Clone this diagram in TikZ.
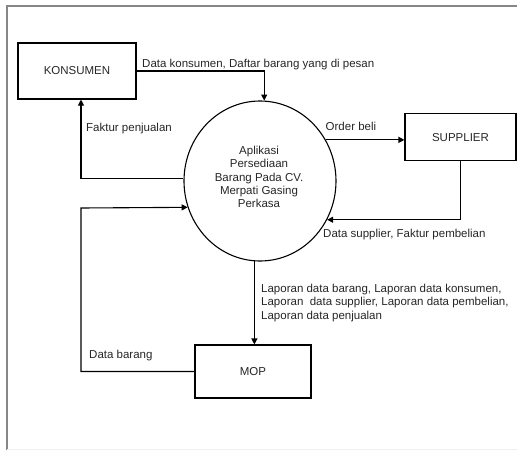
\documentclass[tikz,border=0pt]{standalone}
\usepackage{fontspec}
\setmainfont{Liberation Sans}
\usetikzlibrary{shapes.geometric,arrows.meta}
\begin{document}
\begin{tikzpicture}[x=1pt,y=-1pt,
  every node/.style={font=\fontsize{11.5}{13.4}\selectfont, text=black!85},
  entity/.style={draw, line width=1.1pt, rectangle, inner sep=0pt},
  process/.style={draw, line width=1.1pt, ellipse, inner sep=0pt, minimum width=152pt, minimum height=160pt},
  flow/.style={line width=1.1pt, -{Triangle[length=6pt,width=6pt]}},
  lbl/.style={inner sep=0pt},
  frame/.style={draw=black!47, line width=2pt}]
\useasboundingbox (0,0) rectangle (517,450);
% frame
\draw[frame] (517,5.7) -- (7,5.7) -- (7,450);
\draw[draw=black!6, line width=1pt] (7,449.3) -- (517,449.3);
% nodes
\node[entity, minimum width=118pt, minimum height=56pt] (konsumen) at (77,71) {KONSUMEN};
\node[entity, minimum width=111pt, minimum height=47pt] (supplier) at (460.5,137.3) {SUPPLIER};
\node[entity, minimum width=116pt, minimum height=53pt] (mop) at (253,371.5) {MOP};
\node[process] (proc) at (260,181) {};
\node[lbl, align=center] (proctext) at (259,177) {Aplikasi\\Persediaan\\Barang Pada CV.\\Merpati Gasing\\Perkasa};
% connectors
\draw[flow] (konsumen.east) -| (proc.87);
\draw[flow] (proc.178) -| ([xshift=4pt]konsumen.south);
\draw[flow] (proc.32) -- (proc.32 -| supplier.west);
\draw[flow] (supplier.south) |- (proc.-30);
\draw[flow] (proc.-94) -- (proc.-94 |- mop.north);
\coordinate (bend) at (81,208);
\draw[flow] (mop.west) -| (bend) -- (proc.200);
% labels
\node[lbl, anchor=base west] (l1) at (142,67) {Data konsumen, Daftar barang yang di pesan};
\node[lbl, anchor=base west] (l2) at (86,131) {Faktur penjualan};
\node[lbl, anchor=base west] (l3) at (325.5,130.5) {Order beli};
\node[lbl, anchor=base west] (l4) at (323,237.3) {Data supplier, Faktur pembelian};
\node[lbl, anchor=north west, align=left] (l5) at (261,284) {Laporan data barang, Laporan data konsumen,\\Laporan\ \ data supplier, Laporan data pembelian,\\Laporan data penjualan};
\node[lbl, anchor=base west] (l6) at (89,358.3) {Data barang};
\end{tikzpicture}
\end{document}
